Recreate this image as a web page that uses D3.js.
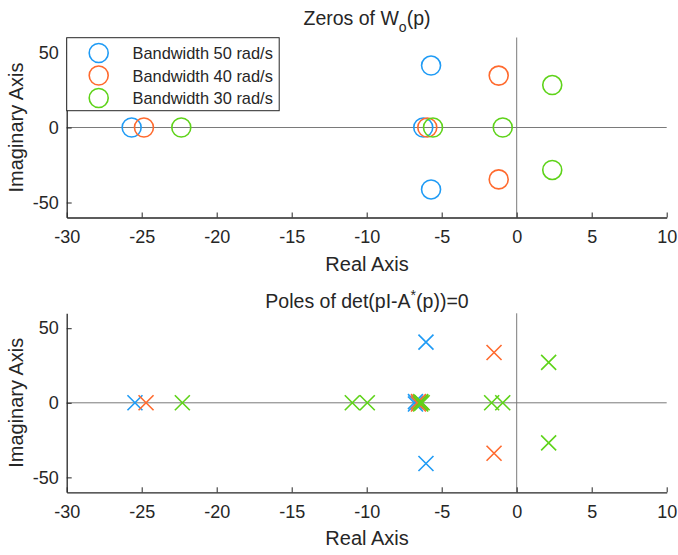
<!DOCTYPE html>
<html lang="en">
	<head>
		<meta charset="UTF-8">
		<title>Zeros and poles</title>
		<script src="https://d3js.org/d3.v7.min.js"></script>
		<style>
			body { margin: 0; background: #fff; }
			text { font-family: "Liberation Sans", Arial, sans-serif; fill: #262626; }
		</style>
	</head>
	<body>
		<script>
			var seriesNames = ['Bandwidth 50 rad/s', 'Bandwidth 40 rad/s', 'Bandwidth 30 rad/s'];
			var seriesColors = ['#1f9bf5', '#ff6a2e', '#5ed319'];
			var xTicks = [-30, -25, -20, -15, -10, -5, 0, 5, 10];
			var yTicks = [-50, 0, 50];

			// zeros [real, imag]
			var zeros50 = [[-25.67, 0], [-6.23, 0], [-5.71, 41.3], [-5.71, -41.3]];
			var zeros40 = [[-24.85, 0], [-5.96, 0], [-1.2, 34.6], [-1.2, -34.6]];
			var zeros30 = [[-22.36, 0], [-5.58, 0], [-0.93, 0], [2.37, 28.3], [2.37, -28.3]];

			// poles [real, imag]
			var poles50 = [[-25.45, 0], [-6.75, 0.8], [-6.75, -0.8], [-6.5, 0], [-6.05, 40.7], [-6.05, -40.7]];
			var poles40 = [[-24.71, 0], [-6.55, 0.8], [-6.55, -0.8], [-6.4, 0], [-1.51, 33.7], [-1.51, -33.8]];
			var poles30 = [[-22.29, 0], [-10.96, 0], [-9.96, 0], [-6.4, 0.8], [-6.4, -0.8], [-6.3, 0],
							[-1.67, 0], [-0.93, 0], [2.13, 27.1], [2.13, -26.9]];

			var width = 678, height = 555;
			var svg = d3.select('body')
						.append('svg')
						.attr('width', width)
						.attr('height', height);

			function panel(top, bottom, titleY, title, sets, marker, legend) {
				var x = d3.scaleLinear().domain([-30, 10]).range([66.7, 666.7]);
				var y = d3.scaleLinear().domain([-60, 60]).range([bottom, top]);
				var g = svg.append('g');

				// zero lines
				g.append('line').attr('x1', x(-30)).attr('x2', x(10))
					.attr('y1', y(0)).attr('y2', y(0))
					.attr('stroke', '#7a7a7a').attr('stroke-width', 1);
				g.append('line').attr('x1', x(0)).attr('x2', x(0))
					.attr('y1', y(60)).attr('y2', y(-60))
					.attr('stroke', '#7a7a7a').attr('stroke-width', 1);

				// axes
				var fmt = function(d) { return String(d); };
				var xAxis = d3.axisBottom(x).tickValues(xTicks).tickFormat(fmt)
								.tickSizeInner(-5).tickSizeOuter(0).tickPadding(13);
				var gx = g.append('g').attr('transform', 'translate(0,' + bottom + ')').call(xAxis);
				var yAxis = d3.axisLeft(y).tickValues(yTicks).tickFormat(fmt)
								.tickSizeInner(-5).tickSizeOuter(0).tickPadding(8);
				var gy = g.append('g').attr('transform', 'translate(' + x(-30) + ',0)').call(yAxis);
				[gx, gy].forEach(function(a) {
					a.selectAll('.domain').attr('stroke', '#262626').attr('stroke-width', 1.3);
					a.selectAll('.tick line').attr('stroke', '#262626');
					a.selectAll('.tick text').style('font-size', '18px').attr('fill', '#262626')
						.style('font-family', '"Liberation Sans", Arial, sans-serif');
				});

				// labels
				g.append('text').attr('x', 367).attr('y', bottom + 53).attr('text-anchor', 'middle')
					.style('font-size', '20px').text('Real Axis');
				g.append('text').attr('transform', 'translate(23,' + ((top + bottom) / 2) + ') rotate(-90)')
					.attr('text-anchor', 'middle').style('font-size', '20px').text('Imaginary Axis');
				var t = g.append('text').attr('x', 367).attr('y', titleY).attr('text-anchor', 'middle')
					.style('font-size', '19.5px');
				title(t);

				// markers
				sets.forEach(function(data, i) {
					var m = g.selectAll(null).data(data).enter();
					if (marker === 'o') {
						m.append('circle')
							.attr('cx', function(d) { return x(d[0]); })
							.attr('cy', function(d) { return y(d[1]); })
							.attr('r', 9.5)
							.attr('fill', 'none')
							.attr('stroke', seriesColors[i])
							.attr('stroke-width', 1.6);
					} else {
						m.append('path')
							.attr('d', function(d) {
								var cx = x(d[0]), cy = y(d[1]), s = 7.5;
								return 'M' + (cx - s) + ',' + (cy - s) + 'L' + (cx + s) + ',' + (cy + s) +
									'M' + (cx - s) + ',' + (cy + s) + 'L' + (cx + s) + ',' + (cy - s);
							})
							.attr('fill', 'none')
							.attr('stroke', seriesColors[i])
							.attr('stroke-width', 1.6);
					}
				});

				if (legend) {
					var lg = g.append('g');
					lg.append('rect').attr('x', 66.7).attr('y', 37.7).attr('width', 212.5).attr('height', 73)
						.attr('fill', '#fff').attr('stroke', '#262626').attr('stroke-width', 1);
					seriesNames.forEach(function(name, i) {
						var ly = 53 + i * 22.5;
						lg.append('circle').attr('cx', 98.7).attr('cy', ly).attr('r', 9.5)
							.attr('fill', 'none').attr('stroke', seriesColors[i]).attr('stroke-width', 1.6);
						lg.append('text').attr('x', 132.5).attr('y', ly + 6)
							.style('font-size', '16.4px').text(name);
					});
				}
			}

			panel(37.5, 217.5, 25, function(t) {
				t.append('tspan').text('Zeros of W');
				t.append('tspan').attr('dy', 7).style('font-size', '14px').text('o');
				t.append('tspan').attr('dy', -7).text('(p)');
			}, [zeros50, zeros40, zeros30], 'o', true);

			panel(313.3, 492.3, 308, function(t) {
				t.append('tspan').text('Poles of det(pI-A');
				t.append('tspan').attr('dy', -8).style('font-size', '14px').text('*');
				t.append('tspan').attr('dy', 8).text('(p))=0');
			}, [poles50, poles40, poles30], 'x', false);
		</script>
	</body>
</html>
